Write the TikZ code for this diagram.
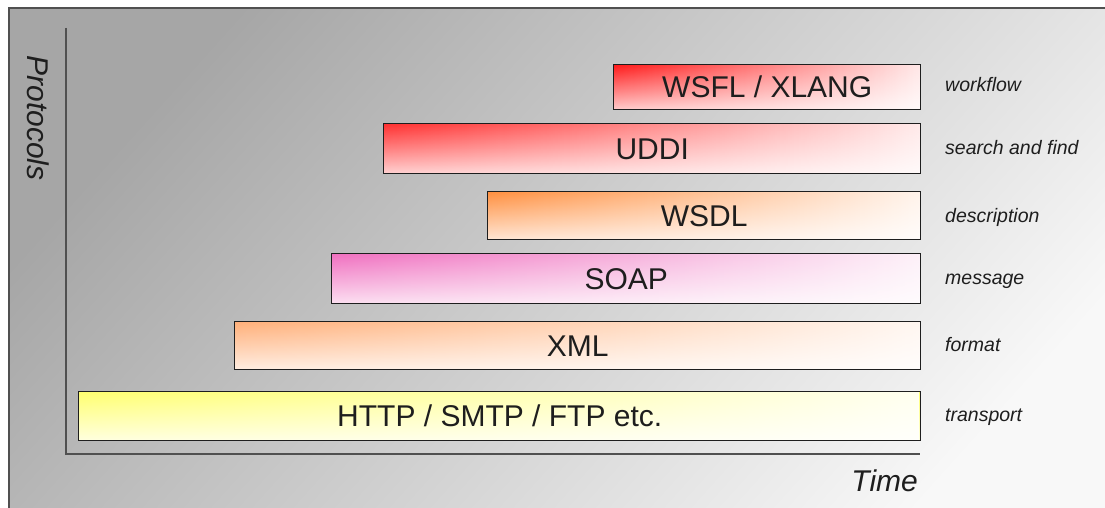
\documentclass[tikz,border=0pt]{standalone}
\usepackage{fontspec}
\setmainfont{Liberation Sans}
\usetikzlibrary{fadings}

\definecolor{bgdark}{HTML}{A6A6A6}
\definecolor{bglight}{HTML}{F8F8F8}
\definecolor{axisgray}{HTML}{505050}
\definecolor{inkgray}{HTML}{1E1E1E}
\definecolor{cwsfl}{HTML}{FF1A1A}
\definecolor{cuddi}{HTML}{FF3030}
\definecolor{cwsdl}{HTML}{FF9040}
\definecolor{csoap}{HTML}{F070C0}
\definecolor{cxml}{HTML}{FFB07A}
\definecolor{chttp}{HTML}{FFFF70}

\begin{document}
\begin{tikzpicture}[x=1pt,y=-1pt,
  layerbox/.style={draw=inkgray, line width=1.4pt, anchor=north west,
    inner sep=0pt, text=inkgray, font=\fontsize{30}{30}\selectfont,
    text height=21pt, text depth=0pt,
    top color=#1, bottom color=#1!22!white,
    path picture={\fill[white, fill opacity=0.9, path fading=west]
      (path picture bounding box.south west) rectangle
      (path picture bounding box.north east);}},
  rolelabel/.style={anchor=base west, inner sep=0pt, text=inkgray,
    font=\fontsize{19.5}{19.5}\selectfont\itshape},
  axislabel/.style={inner sep=0pt, text=inkgray,
    font=\fontsize{30}{30}\selectfont\itshape},
  axisline/.style={draw=axisgray, line width=1.5pt}
]
\useasboundingbox (0,0) rectangle (1105,508);
\fill[white] (0,0) rectangle (1105,508);

% gray backdrop with its frame
\shade[top color=bgdark, bottom color=bglight, shading angle=48]
  (9,8) rectangle (1130,530);
\draw[axisgray, line width=1.2pt] (9,530) -- (9,8) -- (1130,8);

% axes
\coordinate (ytop) at (66,28);
\coordinate (origin) at (66,454);
\coordinate (xend) at (920,454);
\draw[axisline] (ytop) -- (origin) -- (xend);

\node[axislabel, rotate=-90] (protocols) at (38,118) {Protocols};
\node[axislabel, anchor=east] (time) at (918,481) {Time};

% protocol layers
\node[layerbox=cwsfl, minimum width=307pt, minimum height=45pt]
  (wsfl) at (613,64) {WSFL / XLANG};
\node[layerbox=cuddi, minimum width=537pt, minimum height=50pt]
  (uddi) at (383,123) {UDDI};
\node[layerbox=cwsdl, minimum width=433pt, minimum height=48pt]
  (wsdl) at (487,191) {WSDL};
\node[layerbox=csoap, minimum width=589pt, minimum height=50pt]
  (soap) at (331,253) {SOAP};
\node[layerbox=cxml, minimum width=686pt, minimum height=48pt]
  (xml) at (234,321) {XML};
\node[layerbox=chttp, minimum width=842pt, minimum height=49pt]
  (http) at (78,391) {HTTP / SMTP / FTP etc.};

% role of each layer
\node[rolelabel] (rwsfl) at (945,92) {workflow};
\node[rolelabel] (ruddi) at (945,154) {search and find};
\node[rolelabel] (rwsdl) at (945,222) {description};
\node[rolelabel] (rsoap) at (945,284) {message};
\node[rolelabel] (rxml) at (945,351) {format};
\node[rolelabel] (rhttp) at (945,421) {transport};
\end{tikzpicture}
\end{document}
